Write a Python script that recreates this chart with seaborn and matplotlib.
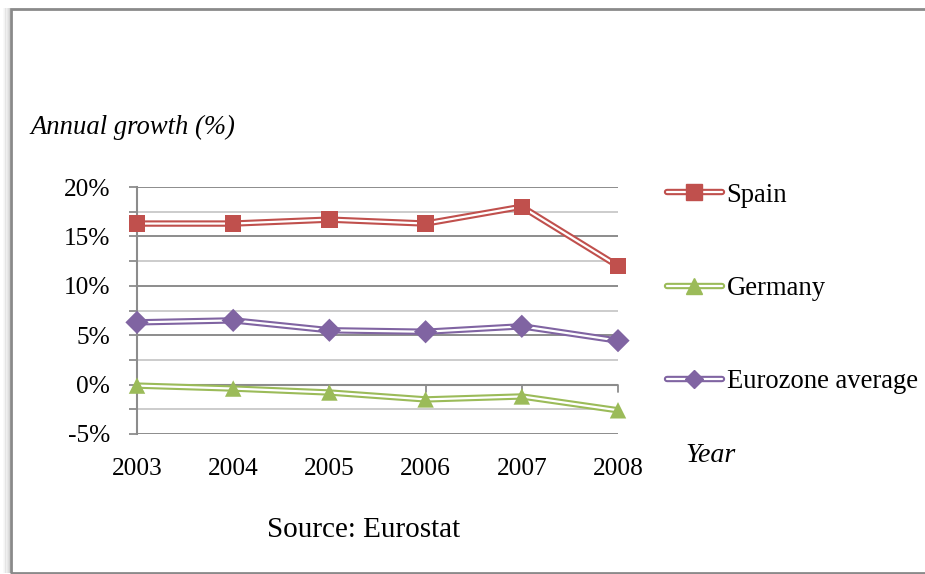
import numpy as np
import pandas as pd
import matplotlib
matplotlib.use("Agg")
import matplotlib.pyplot as plt
import matplotlib.patheffects as pe
from matplotlib.lines import Line2D
from matplotlib.patches import Rectangle
import seaborn as sns

# Annual growth (%) by year
years = [2003, 2004, 2005, 2006, 2007, 2008]
spain = [16.3, 16.3, 16.7, 16.3, 18.0, 12.0]
germany = [-0.1, -0.4, -0.8, -1.5, -1.2, -2.6]
eurozone = [6.3, 6.5, 5.5, 5.35, 5.9, 4.45]

series_names = ["Spain", "Germany", "Eurozone average"]
series_colors = ["#C0504D", "#9BBB59", "#8064A2"]
series_markers = ["s", "^", "D"]
marker_sizes = [11.5, 11.5, 9.2]

y_ticks = [-5, 0, 5, 10, 15, 20]
y_tick_labels = ["-5%", "0%", "5%", "10%", "15%", "20%"]

df = pd.DataFrame({
    "Year": years * 3,
    "Growth": spain + germany + eurozone,
    "Series": sum([[n] * len(years) for n in series_names], []),
})

sns.set_theme(style="white")
plt.rcParams["font.family"] = ["Liberation Serif", "DejaVu Serif"]
plt.rcParams["text.color"] = "black"
palette = dict(zip(series_names, series_colors))

W, H = 925, 574
fig = plt.figure(figsize=(W / 100, H / 100), dpi=100)
ax = fig.add_axes([137 / W, 1 - 434 / H, (618 - 137) / W, (434 - 187) / H])

# Chart frame with a soft shadow along the left edge
for i, a in enumerate([0.04, 0.07, 0.11, 0.16, 0.22, 0.3]):
    fig.add_artist(Rectangle((3 + i * 1.2, 574 - 573), 1.4, 565, transform=None,
                             facecolor="#707070", edgecolor="none", alpha=a))
fig.add_artist(Rectangle((11 / W, 1 - 573 / H), 1.2, (573 - 9) / H,
                         transform=fig.transFigure, fill=False,
                         edgecolor="#8a8a8a", linewidth=2.0, zorder=0))

# Gridlines: major every 5%, minor every 2.5%
for v in np.arange(-2.5, 20, 5):
    ax.axhline(v, color="#c8c8c8", lw=1.3, zorder=0)
for v in y_ticks:
    ax.axhline(v, color="#8c8c8c", lw=1.4, zorder=0)

# Double (compound) lines: thick coloured stroke with a thin white core
sns.lineplot(data=df, x="Year", y="Growth", hue="Series", palette=palette,
             lw=4.6, legend=False, ax=ax, zorder=2)
for name in series_names:
    sub = df[df["Series"] == name]
    ax.plot(sub["Year"], sub["Growth"], color="white", lw=1.6, zorder=3)
sns.scatterplot(data=df, x="Year", y="Growth", hue="Series", style="Series",
                palette=palette, markers=dict(zip(series_names, series_markers)),
                s=140, edgecolor="none", legend=False, ax=ax, zorder=4,
                clip_on=False)

ax.set_xlim(2003, 2008)
ax.set_ylim(-5, 20)
ax.set_xlabel("")
ax.set_ylabel("")
ax.set_yticks(y_ticks)
ax.set_yticklabels(y_tick_labels)
ax.set_yticks(np.arange(-2.5, 20, 5), minor=True)
ax.set_xticks(years)
ax.set_xticklabels([str(y) for y in years])
ax.tick_params(axis="y", which="both", left=True, length=5.5, width=1.3,
               color="#8c8c8c", labelsize=18.3, pad=14)
ax.tick_params(axis="x", bottom=False, labelsize=18.3, pad=11)
for lbl in ax.get_xticklabels() + ax.get_yticklabels():
    lbl.set_color("black")
for s in ["top", "right", "bottom"]:
    ax.spines[s].set_visible(False)
ax.spines["left"].set_color("#8c8c8c")
ax.spines["left"].set_linewidth(1.5)

# Category axis crossing at 0% with downward tick marks
ax.axhline(0, color="#8c8c8c", lw=1.5, zorder=1)
for yr in years:
    ax.plot([yr, yr], [0, -0.75], color="#8c8c8c", lw=1.3, zorder=1,
            clip_on=False)

# Legend with double-line handles
handles = []
for c, m, ms in zip(series_colors, series_markers, marker_sizes):
    ln = Line2D([], [], color="white", lw=1.6,
                path_effects=[pe.Stroke(linewidth=4.6, foreground=c), pe.Normal()])
    mk = Line2D([], [], color=c, marker=m, markersize=ms, linestyle="none")
    handles.append((ln, mk))
fig.legend(handles, series_names, loc="upper left",
           bbox_to_anchor=(656 / W, 1 - 172 / H), frameon=False,
           fontsize=19.2, handlelength=2.06, handletextpad=0.19,
           labelspacing=2.56, borderaxespad=0)

fig.text(30 / W, 1 - 127 / H, "Annual growth (%)", fontsize=19.2,
         style="italic", va="center", ha="left")
fig.text(685 / W, 1 - 455 / H, "Year", fontsize=20.2, style="italic",
         va="center", ha="left")
fig.text(364 / W, 1 - 530 / H, "Source: Eurostat", fontsize=21,
         va="center", ha="center")

fig.savefig("out.png", dpi=100, facecolor="white")
